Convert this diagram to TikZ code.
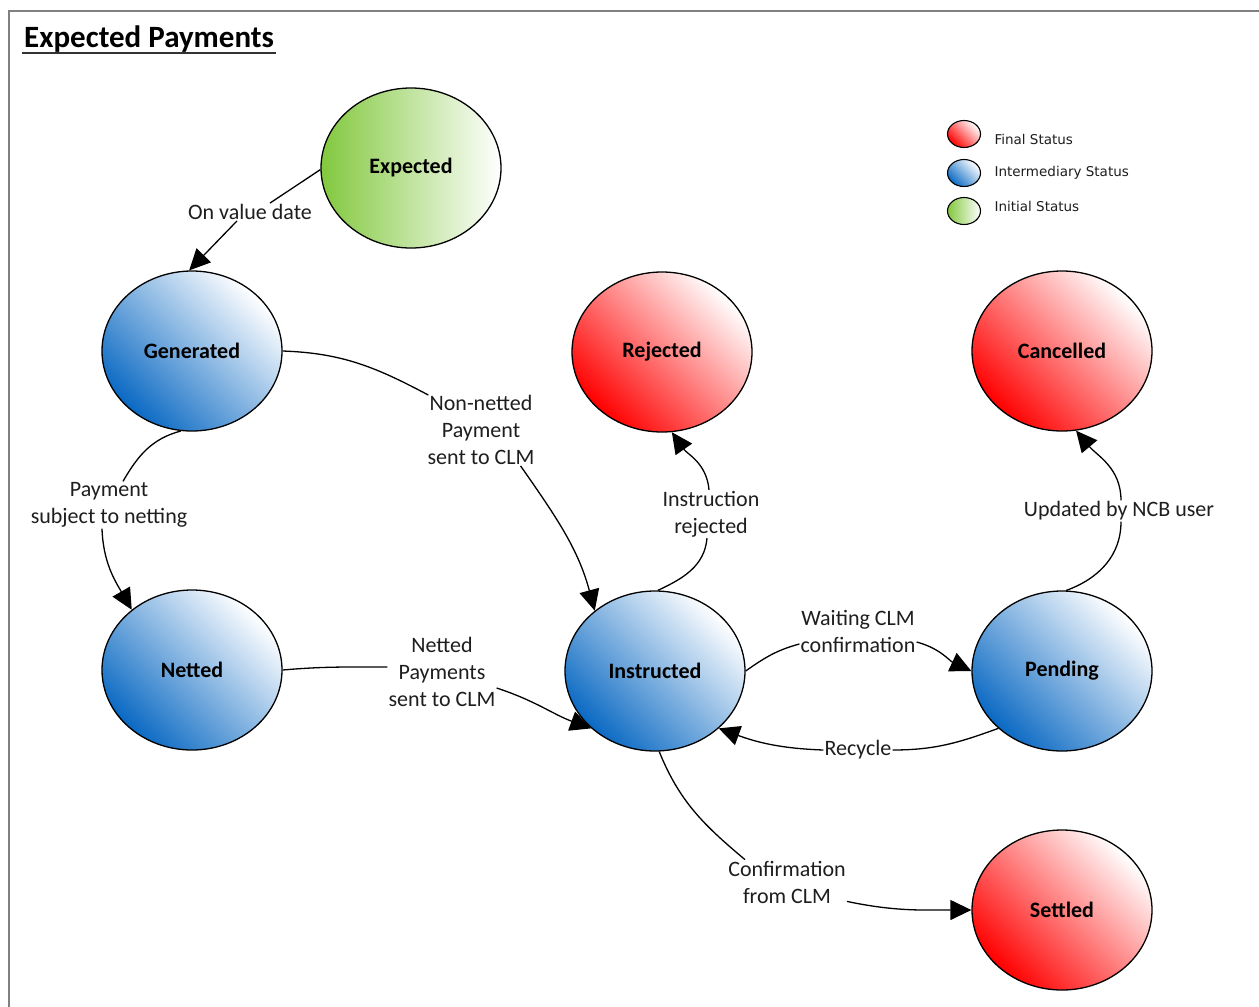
\documentclass[tikz,border=0pt]{standalone}
\usepackage{fontspec}
\setmainfont{Carlito}
\newfontfamily\keyfont{DejaVu Sans}
\usetikzlibrary{shapes.geometric,arrows.meta}

\definecolor{finalred}{RGB}{255,0,0}
\definecolor{midblue}{RGB}{10,105,195}
\definecolor{initgreen}{RGB}{130,200,62}
\definecolor{framegray}{RGB}{128,128,128}
\definecolor{inkgray}{RGB}{30,30,30}

\tikzset{
  state/.style={ellipse, draw=black, line width=1.3pt, minimum width=180pt,
    minimum height=160pt, inner sep=0pt, text=black,
    font=\fontsize{22}{26}\selectfont\bfseries},
  finalstate/.style={state, top color=white, bottom color=finalred, shading angle=-45},
  midstate/.style={state, top color=white, bottom color=midblue, shading angle=-45},
  initstate/.style={state, left color=initgreen, right color=white},
  lbl/.style={fill=white, inner sep=1pt, align=center, text=inkgray,
    font=\fontsize{22}{27}\selectfont},
  edge/.style={line width=1.3pt, -{Triangle[length=21pt,width=20pt]}},
  keydot/.style={ellipse, draw=black, line width=1.1pt, minimum width=33pt,
    minimum height=27pt, inner sep=0pt},
  keytext/.style={anchor=west, text=inkgray, font=\keyfont\fontsize{13.5}{16}\selectfont},
}

\begin{document}
\begin{tikzpicture}[x=1pt,y=1pt]
\useasboundingbox (0,0) rectangle (1259,-1007);
\fill[white] (0,0) rectangle (1259,-1007);

% outer frame
\draw[framegray, line width=2.6pt] (9,-11) rectangle (1300,-1100);

% title
\node[anchor=base west, inner sep=0pt, font=\fontsize{31}{37}\selectfont\bfseries]
  (title) at (24,-47) {Expected Payments};
\draw[line width=2pt, black!80] ([xshift=-2pt,yshift=-6pt]title.base west) -- ([xshift=2pt,yshift=-6pt]title.base east);

% legend
\node[keydot, top color=white, bottom color=finalred, shading angle=-45] (kfin) at (964,-134) {};
\node[keydot, top color=white, bottom color=midblue, shading angle=-45] (kmid) at (964,-173) {};
\node[keydot, left color=initgreen, right color=white] (kini) at (964,-211) {};
\node[keytext] (tfin) at (991,-139) {Final Status};
\node[keytext] (tmid) at (991,-173) {Intermediary Status};
\node[keytext] (tini) at (991,-206) {Initial Status};

% states
\node[initstate]  (exp)  at (411,-168)  {Expected};
\node[midstate]   (gen)  at (192,-351)  {Generated};
\node[midstate]   (net)  at (192,-670)  {Netted};
\node[midstate]   (ins)  at (655,-671)  {Instructed};
\node[finalstate] (rej)  at (662,-352)  {Rejected};
\node[finalstate] (canc) at (1062,-351) {Cancelled};
\node[midstate]   (pend) at (1062,-671) {Pending};
\node[finalstate] (sett) at (1062,-910) {Settled};

% transition labels
\node[lbl] (lA) at (250,-212) {On value date};
\node[lbl] (lB) at (109,-505) {Payment\\subject to netting};
\node[lbl] (lC) at (481,-430) {Non-netted\\Payment\\sent to CLM};
\node[lbl] (lD) at (442,-672) {Netted\\Payments\\sent to CLM};
\node[lbl] (lE) at (711,-514) {Instruction\\rejected};
\node[lbl] (lF) at (1119,-511) {Updated by NCB user};
\node[lbl] (lG) at (858,-631) {Waiting CLM\\confirmation};
\node[lbl] (lH) at (858,-750) {Recycle};
\node[lbl] (lI) at (787,-882) {Confirmation\\from CLM};

% transitions
\draw[edge] (exp.181) -- ([xshift=20pt]lA.north)
            ([xshift=-13pt]lA.south) -- (gen.92);
\draw[edge] (gen.262) to[out=195,in=60] ([xshift=14pt]lB.north)
            ([xshift=-7pt]lB.south) to[out=272,in=120] (net.135);
\draw[edge] (gen.east) to[out=-2,in=152] ([xshift=2pt,yshift=-1pt]lC.north west)
            ([xshift=-15pt]lC.south east) to[out=-55,in=105] (ins.135);
\draw[edge] (net.east) to[out=5,in=180] ([yshift=5pt]lD.west)
            ([yshift=-16pt]lD.east) to[out=-18,in=160] (ins.222);
\draw[edge] (ins.88) to[out=25,in=265] ([xshift=-4pt]lE.south)
            ([xshift=-2pt]lE.north) to[out=95,in=-55] (rej.277);
\draw[edge] (pend.87) to[out=20,in=270] ([xshift=2pt]lF.south)
            ([xshift=2pt]lF.north) to[out=90,in=-50] (canc.280);
\draw[edge] (ins.east) to[out=35,in=195] ([yshift=-13pt]lG.west)
            ([yshift=-11pt]lG.east) to[out=-15,in=155] (pend.west);
\draw[edge] (pend.222) to[out=200,in=0] (lH.east)
            (lH.west) to[out=178,in=-20] (ins.318);
\draw[edge] (ins.273) to[out=-68,in=140] ([xshift=-42pt]lI.north)
            ([yshift=3pt]lI.south east) to[out=-12,in=180] (sett.west);
\end{tikzpicture}
\end{document}
